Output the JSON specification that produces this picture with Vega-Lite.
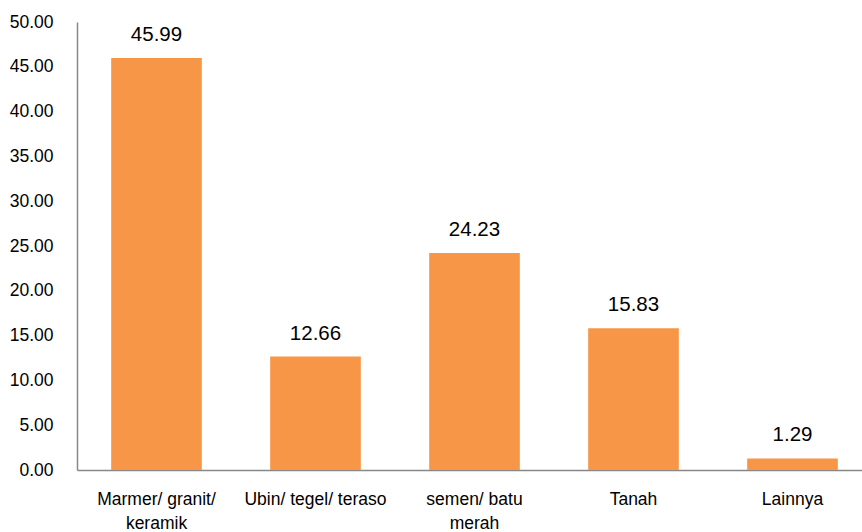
{
  "$schema": "https://vega.github.io/schema/vega-lite/v6.json",
  "width": 795,
  "height": 448,
  "autosize": {"type": "none"},
  "padding": {"left": 77, "top": 22, "right": 0, "bottom": 62},
  "background": "white",
  "config": {"view": {"stroke": null}, "font": "Liberation Sans"},
  "data": {
    "values": [
      {"kategori": "Marmer/ granit/ keramik", "nilai": 45.99},
      {"kategori": "Ubin/ tegel/ teraso", "nilai": 12.66},
      {"kategori": "semen/ batu merah", "nilai": 24.23},
      {"kategori": "Tanah", "nilai": 15.83},
      {"kategori": "Lainnya", "nilai": 1.29}
    ]
  },
  "encoding": {
    "x": {
      "field": "kategori", "type": "nominal", "sort": null,
      "scale": {"paddingInner": 0.43, "paddingOuter": 0.215},
      "axis": {
        "title": null, "labelAngle": 0, "ticks": false,
        "domainColor": "#888888", "domainWidth": 1.5,
        "labelFont": "Liberation Sans", "labelFontSize": 17.5, "labelColor": "#000000",
        "labelPadding": 20, "labelLineHeight": 24,
        "labelExpr": "datum.label == 'Marmer/ granit/ keramik' ? ['Marmer/ granit/', 'keramik'] : datum.label == 'semen/ batu merah' ? ['semen/ batu', 'merah'] : datum.label"
      }
    },
    "y": {
      "field": "nilai", "type": "quantitative",
      "scale": {"domain": [0, 50]},
      "axis": {
        "title": null, "values": [0, 5, 10, 15, 20, 25, 30, 35, 40, 45, 50],
        "format": ".2f", "grid": false, "ticks": false,
        "domainColor": "#888888", "domainWidth": 1.5,
        "labelFont": "Liberation Sans", "labelFontSize": 17.5, "labelColor": "#000000",
        "labelPadding": 24
      }
    }
  },
  "layer": [
    {"mark": {"type": "bar", "color": "#F79646"}},
    {
      "mark": {"type": "text", "baseline": "bottom", "dy": -13, "fontSize": 20.5, "font": "Liberation Sans", "color": "#000000"},
      "encoding": {"text": {"field": "nilai", "type": "quantitative", "format": ".2f"}}
    }
  ]
}
